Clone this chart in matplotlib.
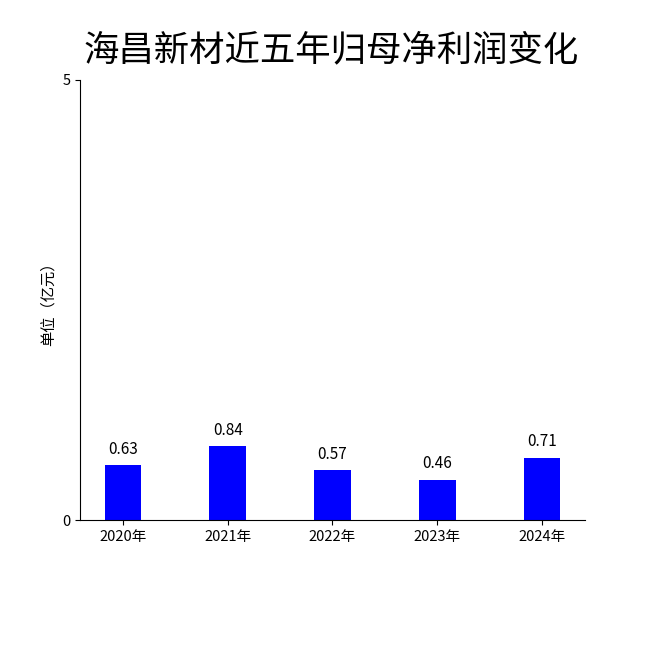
import matplotlib
matplotlib.use('Agg')
import matplotlib.pyplot as plt

plt.rcParams['font.family'] = ['Noto Sans CJK SC', 'DejaVu Sans']

TITLE = '海昌新材近五年归母净利润变化'
YEARS = ['2020年', '2021年', '2022年', '2023年', '2024年']
PROFIT = [0.63, 0.84, 0.57, 0.46, 0.71]
BAR_COLOUR = '#0000ff'

if __name__ == '__main__':
    fig = plt.figure(figsize=(6.5, 6.5), dpi=100)
    ax = fig.add_axes([0.123, 0.2, 0.777, 0.677])

    x = range(len(YEARS))
    bars = ax.bar(x, PROFIT, width=0.35, color=BAR_COLOUR)
    for b, v in zip(bars, PROFIT):
        ax.text(b.get_x() + b.get_width() / 2, v + 0.08, f'{v:.2f}',
                ha='center', va='bottom', fontsize=11)

    ax.set_xticks(list(x))
    ax.set_xticklabels(YEARS, fontsize=10.5)
    ax.set_xlim(-0.41, 4.41)
    ax.set_ylim(0, 5)
    ax.set_yticks([0, 5])
    ax.tick_params(axis='y', labelsize=10.5)
    ax.set_ylabel('单位（亿元）', fontsize=11)
    ax.spines['top'].set_visible(False)
    ax.spines['right'].set_visible(False)

    fig.text(0.51, 0.923, TITLE, ha='center', va='center', fontsize=25.5)

    fig.savefig('out.png')
